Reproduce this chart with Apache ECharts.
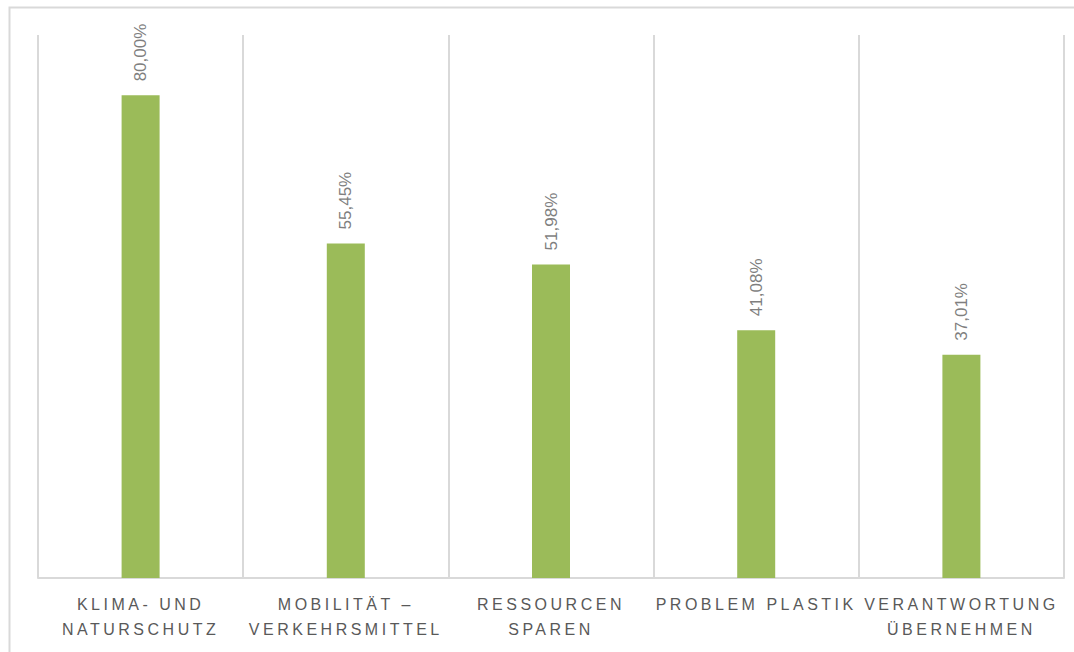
<!DOCTYPE html>
<html>
<head>
<meta charset="utf-8">
<script src="https://cdn.jsdelivr.net/npm/echarts@6/dist/echarts.min.js"></script>
<style>
  html, body { margin: 0; padding: 0; background: #ffffff; }
  #chart { width: 1074px; height: 652px; }
</style>
</head>
<body>
<div id="chart"></div>
<script>
// ---- data ----
const categories = [
  'KLIMA- UND\nNATURSCHUTZ',
  'MOBILITÄT –\nVERKEHRSMITTEL',
  'RESSOURCEN\nSPAREN',
  'PROBLEM PLASTIK',
  'VERANTWORTUNG\nÜBERNEHMEN'
];
const values = [80.00, 55.45, 51.98, 41.08, 37.01];
const yMin = 0;
const yMax = 90;

const chart = echarts.init(document.getElementById('chart'), null, { renderer: 'svg' });

const option = {
  animation: false,
  backgroundColor: '#ffffff',
  graphic: [{
    type: 'rect',
    silent: true,
    shape: { x: 9.5, y: 7.5, width: 1100, height: 700 },
    style: { fill: 'none', stroke: '#d9d9d9', lineWidth: 2 }
  }],
  grid: { left: 38, right: 10, top: 35, bottom: 74, containLabel: false },
  xAxis: {
    type: 'category',
    data: categories,
    axisLine: { show: true, lineStyle: { color: '#d9d9d9', width: 2 } },
    axisTick: { show: false },
    splitLine: { show: true, lineStyle: { color: '#d9d9d9', width: 2 } },
    axisLabel: {
      interval: 0,
      margin: 14,
      color: '#595959',
      fontFamily: 'Liberation Sans',
      fontSize: 16,
      lineHeight: 25
    }
  },
  yAxis: {
    type: 'value',
    min: yMin,
    max: yMax,
    show: false,
    splitLine: { show: false }
  },
  series: [{
    type: 'bar',
    data: values,
    barWidth: 38,
    itemStyle: { color: '#9bbb59' },
    label: {
      show: true,
      position: 'top',
      rotate: 90,
      align: 'left',
      verticalAlign: 'middle',
      distance: 14,
      color: '#7f7f7f',
      fontFamily: 'Liberation Sans',
      fontSize: 17,
      formatter: p => p.value.toFixed(2).replace('.', ',') + '%'
    }
  }]
};
chart.setOption(option);

// letter spacing for category labels (as in the original)
const lines = new Set();
categories.forEach(c => c.split('\n').forEach(l => lines.add(l)));
document.querySelectorAll('#chart svg text, #chart svg tspan').forEach(t => {
  if (lines.has(t.textContent.trim()) || categories.includes(t.textContent)) {
    t.setAttribute('letter-spacing', '3.5');
  }
});
</script>
</body>
</html>
